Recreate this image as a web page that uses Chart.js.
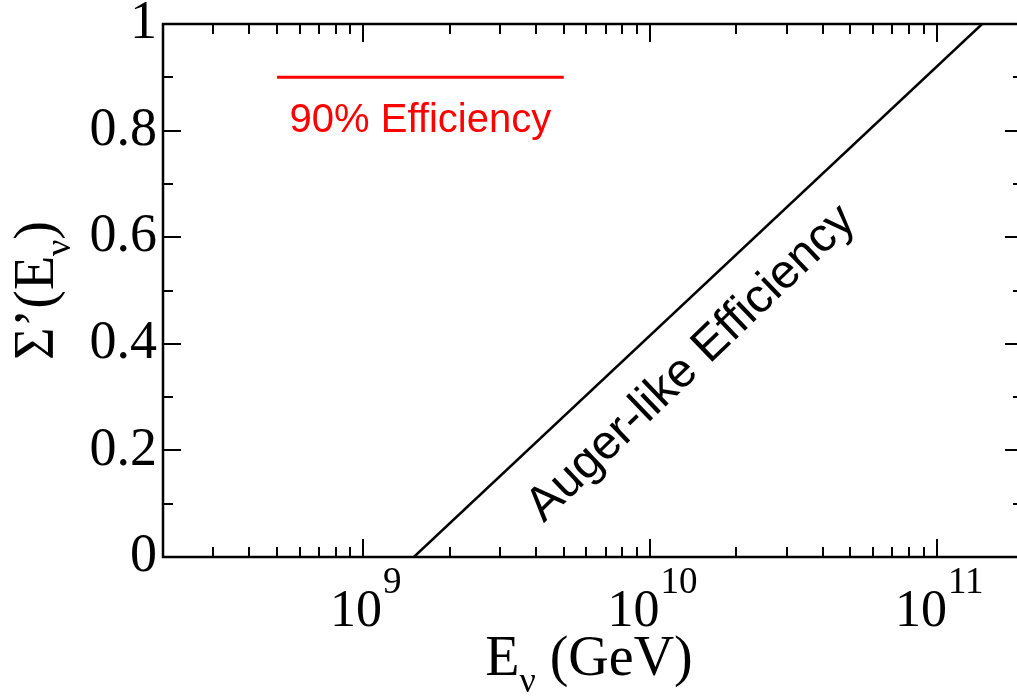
<!DOCTYPE html>
<html><head><meta charset="utf-8">
<script src="https://cdn.jsdelivr.net/npm/chart.js@4/dist/chart.umd.min.js"></script>
<style>html,body{margin:0;padding:0;overflow:hidden;background:#fff;width:1017px;height:696px}canvas{display:block}</style>
</head><body><canvas id="c" width="1030" height="696"></canvas>
<script>
// ---- data ----
const augerEnergy = [1.5e9, 1.44e11];
const augerEff = [0, 1];
const ninetyEnergy = [5e8, 5e9];
const ninetyEff = [0.9, 0.9];
const xMajorTicks = [1e9, 1e10, 1e11];
const xTickBase = ['10', '10', '10'];
const xTickExp = ['9', '10', '11'];
const yTickValues = [0, 0.2, 0.4, 0.6, 0.8, 1];
const yTickLabels = ['0', '0.2', '0.4', '0.6', '0.8', '1'];
const xRange = [2e8, 2e11];
const yRange = [0, 1];
const seriesLabels = ['Auger-like Efficiency', '90% Efficiency'];
const augerLabelAt = [1.5e10, 0.345];

const SERIF = '"Liberation Serif", "Times New Roman", serif';
const SANS = '"Liberation Sans", Arial, sans-serif';

const deco = {
  id: 'deco',
  afterDraw(chart) {
    const { ctx, chartArea: a, scales: { x, y } } = chart;
    ctx.save();
    // frame
    ctx.strokeStyle = '#000';
    ctx.lineWidth = 2.5;
    ctx.strokeRect(a.left, a.top, a.right - a.left, a.bottom - a.top);
    // ticks
    ctx.lineWidth = 2;
    const seg = (x1, y1, x2, y2) => { ctx.beginPath(); ctx.moveTo(x1, y1); ctx.lineTo(x2, y2); ctx.stroke(); };
    for (let e = 8; e <= 11; e++) {
      for (let k = 1; k <= 9; k++) {
        const v = k * Math.pow(10, e);
        if (v <= xRange[0] * 0.999 || v >= xRange[1]) continue;
        const px = Math.round(x.getPixelForValue(v));
        const L = k === 1 ? 18 : 10;
        seg(px, a.bottom, px, a.bottom - L);
        seg(px, a.top, px, a.top + L);
      }
    }
    for (let i = 1; i < 10; i++) {
      const v = i / 10;
      const py = Math.round(y.getPixelForValue(v));
      const L = i % 2 === 0 ? 18 : 10;
      seg(a.left, py, a.left + L, py);
      seg(a.right, py, a.right - L, py);
    }
    // x tick labels 10^n
    ctx.fillStyle = '#000';
    ctx.textBaseline = 'alphabetic';
    ctx.textAlign = 'left';
    xMajorTicks.forEach((v, i) => {
      const px = x.getPixelForValue(v);
      ctx.font = '52px ' + SERIF;
      const wb = ctx.measureText(xTickBase[i]).width;
      ctx.font = '37px ' + SERIF;
      const we = ctx.measureText(xTickExp[i]).width;
      const left = px - (wb + we) / 2 + 2;
      ctx.font = '52px ' + SERIF;
      ctx.fillText(xTickBase[i], left, a.bottom + 69);
      ctx.font = '37px ' + SERIF;
      ctx.fillText(xTickExp[i], left + wb + 1, a.bottom + 36);
    });
    // x axis title: E_nu (GeV)
    {
      ctx.font = '56px ' + SERIF; const w1 = ctx.measureText('E').width;
      ctx.font = '36px ' + SERIF; const w2 = ctx.measureText('\u03bd').width;
      ctx.font = '56px ' + SERIF; const w3 = ctx.measureText(' (GeV)').width;
      const tot = w1 + w2 + w3;
      let sx = (a.left + a.right) / 2 - tot / 2 - 4;
      const by = a.bottom + 118;
      ctx.font = '56px ' + SERIF; ctx.fillText('E', sx, by); sx += w1;
      ctx.font = '36px ' + SERIF; ctx.fillText('\u03bd', sx, by + 17); sx += w2;
      ctx.font = '56px ' + SERIF; ctx.fillText(' (GeV)', sx, by);
    }
    // y axis title: Sigma'(E_nu)
    {
      ctx.save();
      ctx.translate(53, (a.top + a.bottom) / 2);
      ctx.rotate(-Math.PI / 2);
      ctx.font = '56px ' + SERIF; const w1 = ctx.measureText('\u03a3\u2019(E').width;
      ctx.font = '36px ' + SERIF; const w2 = ctx.measureText('\u03bd').width;
      ctx.font = '56px ' + SERIF; const w3 = ctx.measureText(')').width;
      const tot = w1 + w2 + w3;
      let sx = -tot / 2;
      ctx.font = '56px ' + SERIF; ctx.fillText('\u03a3\u2019(E', sx, 0); sx += w1;
      ctx.font = '36px ' + SERIF; ctx.fillText('\u03bd', sx, 17); sx += w2;
      ctx.font = '56px ' + SERIF; ctx.fillText(')', sx, 0);
      ctx.restore();
    }
    // legend-like label for 90% line
    {
      const cx = (x.getPixelForValue(ninetyEnergy[0]) + x.getPixelForValue(ninetyEnergy[1])) / 2;
      const cy = y.getPixelForValue(ninetyEff[0]) + 55;
      ctx.fillStyle = '#ff0000';
      ctx.font = '40px ' + SANS;
      ctx.textAlign = 'center';
      ctx.fillText(seriesLabels[1], cx, cy);
    }
    // rotated Auger label
    {
      const p0x = x.getPixelForValue(augerEnergy[0]), p0y = y.getPixelForValue(augerEff[0]);
      const p1x = x.getPixelForValue(augerEnergy[1]), p1y = y.getPixelForValue(augerEff[1]);
      const ang = Math.atan2(p1y - p0y, p1x - p0x) - 0.01;
      ctx.save();
      ctx.translate(x.getPixelForValue(augerLabelAt[0]), y.getPixelForValue(augerLabelAt[1]));
      ctx.rotate(ang);
      ctx.fillStyle = '#000';
      ctx.font = '48px ' + SANS;
      ctx.textAlign = 'center';
      ctx.textBaseline = 'alphabetic';
      ctx.fillText(seriesLabels[0], 0, 0);
      ctx.restore();
    }
    ctx.restore();
  }
};

new Chart(document.getElementById('c').getContext('2d'), {
  type: 'line',
  data: {
    datasets: [
      { label: seriesLabels[0], data: augerEnergy.map((v, i) => ({ x: v, y: augerEff[i] })),
        borderColor: '#000', borderWidth: 2.5, pointRadius: 0, fill: false, tension: 0 },
      { label: seriesLabels[1], data: ninetyEnergy.map((v, i) => ({ x: v, y: ninetyEff[i] })),
        borderColor: '#ff0000', borderWidth: 3, pointRadius: 0, fill: false, tension: 0 }
    ]
  },
  options: {
    responsive: false, animation: false, devicePixelRatio: 1,
    layout: { padding: { left: 0, top: 24, right: 7, bottom: 0 } },
    plugins: { legend: { display: false }, tooltip: { enabled: false } },
    scales: {
      x: {
        type: 'logarithmic', min: xRange[0], max: xRange[1],
        grid: { display: false, drawTicks: false }, border: { display: false },
        ticks: { display: false },
        afterFit(s) { s.height = 139; s.paddingLeft = 0; s.paddingRight = 0; }
      },
      y: {
        type: 'linear', min: yRange[0], max: yRange[1],
        grid: { display: false, drawTicks: false }, border: { display: false },
        afterBuildTicks(s) { s.ticks = yTickValues.map(v => ({ value: v })); },
        ticks: {
          color: '#000', padding: 6, font: { family: 'Liberation Serif', size: 54 },
          callback: (v) => { const i = yTickValues.indexOf(v); return i >= 0 ? yTickLabels[i] : ''; }
        },
        afterFit(s) { s.width = 163; s.paddingTop = 0; s.paddingBottom = 0; }
      }
    }
  },
  plugins: [deco]
});
</script>
</body></html>
